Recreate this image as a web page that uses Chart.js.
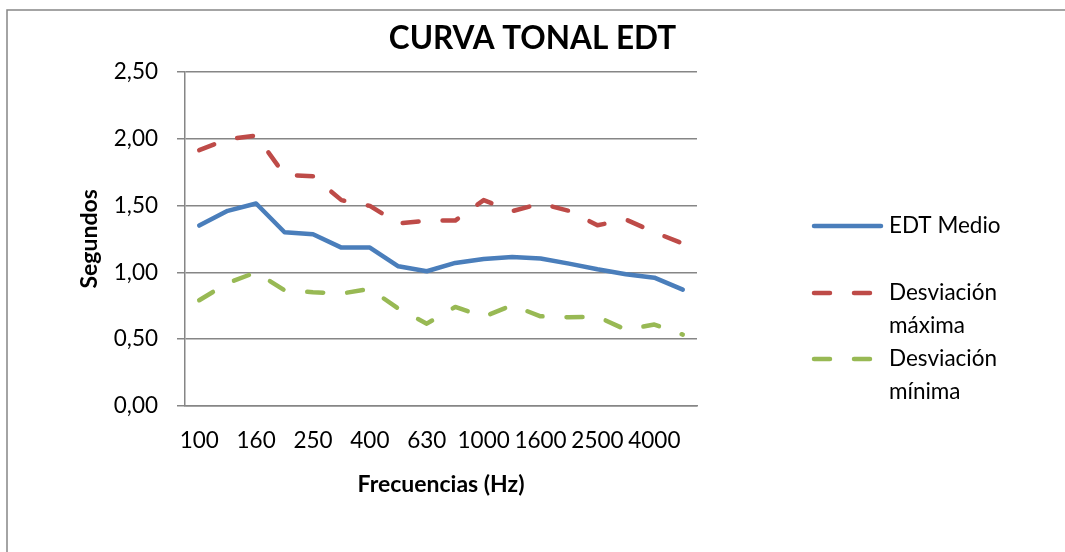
<!DOCTYPE html>
<html>
<head>
<meta charset="utf-8">
<script src="https://cdn.jsdelivr.net/npm/chart.js@4.4.1/dist/chart.umd.min.js"></script>
<style>
  html, body { margin: 0; padding: 0; background: #fff; overflow: hidden; }
</style>
</head>
<body>
<canvas id="myChart" width="1065" height="552"></canvas>
<script>
const categories = ['100', '125', '160', '200', '250', '315', '400', '500', '630',
  '800', '1000', '1250', '1600', '2000', '2500', '3150', '4000', '5000'];
const edtMedio = [1.35, 1.46, 1.515, 1.30, 1.285, 1.185, 1.185, 1.045, 1.008,
  1.07, 1.10, 1.115, 1.103, 1.065, 1.023, 0.986, 0.96, 0.871];
const desvMaxima = [1.914, 1.996, 2.023, 1.73, 1.718, 1.54, 1.497, 1.365, 1.387,
  1.387, 1.54, 1.457, 1.514, 1.46, 1.352, 1.395, 1.30, 1.215];
const desvMinima = [0.791, 0.92, 1.0, 0.866, 0.851, 0.841, 0.876, 0.729, 0.616,
  0.741, 0.668, 0.753, 0.671, 0.664, 0.668, 0.571, 0.609, 0.534];
const yTickLabels = ['0,00', '0,50', '1,00', '1,50', '2,00', '2,50'];

const FONT = 'Lato, "Open Sans", sans-serif';
const GRID = '#868686';

// frame (only top and left edges are inside the picture) and the legend
const extras = {
  id: 'extras',
  beforeDraw(chart) {
    const ctx = chart.ctx;
    ctx.save();
    ctx.strokeStyle = GRID;
    ctx.lineWidth = 1.5;
    ctx.beginPath();
    ctx.moveTo(7, chart.height);
    ctx.lineTo(7, 10);
    ctx.lineTo(chart.width, 10);
    ctx.stroke();
    ctx.restore();
  },
  afterDraw(chart) {
    const ctx = chart.ctx;
    const rows = [226, 293, 359];
    ctx.save();
    ctx.font = '22.5px ' + FONT;
    ctx.textBaseline = 'middle';
    chart.data.datasets.forEach((ds, i) => {
      const y = rows[i];
      ctx.strokeStyle = ds.borderColor;
      ctx.lineWidth = ds.borderWidth;
      ctx.lineCap = 'round';
      ctx.setLineDash(ds.borderDash || []);
      ctx.beginPath();
      ctx.moveTo(814, y);
      ctx.lineTo(881, y);
      ctx.stroke();
      ctx.setLineDash([]);
      // wrap label
      const words = ds.label.split(' ');
      const lines = [];
      let cur = '';
      for (const w of words) {
        const test = cur ? cur + ' ' + w : w;
        if (ctx.measureText(test).width > 130 && cur) {
          lines.push(cur);
          cur = w;
        } else {
          cur = test;
        }
      }
      lines.push(cur);
      ctx.fillStyle = '#000';
      lines.forEach((l, j) => ctx.fillText(l, 889, y + j * 33));
    });
    ctx.restore();
  }
};

const ctx = document.getElementById('myChart');
new Chart(ctx, {
  type: 'line',
  data: {
    labels: categories,
    datasets: [
      {
        label: 'EDT Medio',
        data: edtMedio,
        borderColor: '#4A7EBB',
        borderWidth: 4.5,
      },
      {
        label: 'Desviación máxima',
        data: desvMaxima,
        borderColor: '#BE4B48',
        borderWidth: 4.5,
        borderDash: [16, 24],
      },
      {
        label: 'Desviación mínima',
        data: desvMinima,
        borderColor: '#98B954',
        borderWidth: 4.5,
        borderDash: [16, 24],
      },
    ],
  },
  options: {
    responsive: false,
    animation: false,
    layout: { padding: 0 },
    elements: {
      point: { radius: 0, hoverRadius: 0 },
      line: { tension: 0, borderCapStyle: 'round', borderJoinStyle: 'round' },
    },
    plugins: {
      legend: { display: false },
      tooltip: { enabled: false },
      title: {
        display: true,
        text: 'CURVA TONAL EDT',
        color: '#000',
        font: { family: FONT, size: 31.5, weight: 'bold' },
        padding: { top: 20, bottom: 14 },
      },
    },
    scales: {
      x: {
        offset: true,
        grid: { display: false, drawTicks: false, offset: true },
        border: { display: true, color: GRID, width: 1.5 },
        ticks: {
          autoSkip: false,
          maxRotation: 0,
          padding: 21,
          color: '#000',
          font: { family: FONT, size: 22.5 },
          callback: (v, i) => (i % 2 === 0 ? categories[i] : ''),
        },
        title: {
          display: true,
          text: 'Frecuencias (Hz)',
          color: '#000',
          font: { family: FONT, size: 23, weight: 'bold' },
          padding: { top: 0, bottom: 54 },
        },
        afterFit: (s) => { s.height = 146; },
      },
      y: {
        min: 0,
        max: 2.5,
        grid: { color: GRID, lineWidth: 1.5, tickLength: 8, drawTicks: true },
        border: { display: true, color: GRID, width: 1.5 },
        ticks: {
          stepSize: 0.5,
          padding: 19,
          color: '#000',
          font: { family: FONT, size: 22.5 },
          callback: (v, i) => yTickLabels[i],
        },
        title: {
          display: true,
          text: 'Segundos',
          color: '#000',
          font: { family: FONT, size: 23, weight: 'bold' },
          padding: { top: 76, bottom: 0 },
        },
        afterFit: (s) => { s.width = 185; },
      },
      side: {
        type: 'linear',
        position: 'right',
        display: true,
        grid: { display: false },
        border: { display: false },
        ticks: { display: false },
        afterFit: (s) => { s.width = 368; },
      },
    },
  },
  plugins: [extras],
});
</script>
</body>
</html>
